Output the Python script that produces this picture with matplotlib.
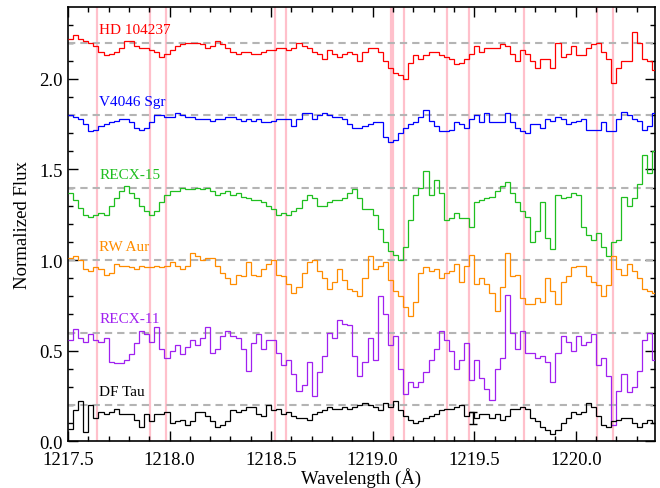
import numpy as np
import matplotlib
matplotlib.use('Agg')
import matplotlib.pyplot as plt
from matplotlib.ticker import MultipleLocator

plt.rcParams['font.family'] = ['Liberation Serif', 'DejaVu Serif']

# wavelength grid (Angstrom), uniform bins
wave0 = 1217.5
dwave = 0.025

# normalized flux, already shifted by the offsets in `levels`
hd104237 = [2.22, 2.24, 2.22, 2.21, 2.20, 2.18, 2.15, 2.13, 2.14, 2.15, 2.17, 2.21, 2.21, 2.18, 2.17, 2.17, 2.16, 2.15, 2.12, 2.14,
            2.16, 2.18, 2.19, 2.20, 2.20, 2.20, 2.19, 2.17, 2.18, 2.21, 2.19, 2.17, 2.15, 2.14, 2.15, 2.15, 2.14, 2.14, 2.15,
            2.16, 2.16, 2.17, 2.17, 2.16, 2.17, 2.20, 2.18, 2.17, 2.15, 2.14, 2.11, 2.16, 2.14, 2.12, 2.14, 2.15, 2.14, 2.10, 2.15,
            2.17, 2.17, 2.15, 2.10, 2.06, 2.03, 2.02, 2.00, 2.09, 2.13, 2.11, 2.13, 2.15, 2.15, 2.13, 2.12, 2.11, 2.08, 2.09,
            2.11, 2.14, 2.18, 2.15, 2.17, 2.17, 2.17, 2.19, 2.18, 2.14, 2.10, 2.16, 2.14, 2.10, 2.06, 2.11, 2.11, 2.06, 2.20, 2.12,
            2.14, 2.18, 2.13, 2.13, 2.17, 2.19, 2.20, 2.15, 2.11, 1.98, 2.06, 2.10, 2.10, 2.26, 2.20, 2.11, 2.10, 2.05]
v4046 = [1.80, 1.79, 1.78, 1.75, 1.71, 1.72, 1.74, 1.75, 1.76, 1.77, 1.78, 1.78, 1.76, 1.73, 1.72, 1.73, 1.76, 1.80, 1.80, 1.79,
         1.79, 1.81, 1.80, 1.79, 1.79, 1.78, 1.78, 1.78, 1.77, 1.78, 1.78, 1.79, 1.79, 1.78, 1.77, 1.78, 1.77, 1.78, 1.76,
         1.76, 1.77, 1.78, 1.78, 1.78, 1.74, 1.78, 1.81, 1.81, 1.78, 1.80, 1.81, 1.80, 1.79, 1.79, 1.78, 1.75, 1.73, 1.73, 1.74,
         1.75, 1.76, 1.76, 1.68, 1.65, 1.66, 1.70, 1.73, 1.75, 1.76, 1.79, 1.83, 1.77, 1.74, 1.71, 1.71, 1.72, 1.76, 1.75,
         1.73, 1.78, 1.80, 1.76, 1.81, 1.76, 1.76, 1.76, 1.81, 1.76, 1.73, 1.71, 1.70, 1.75, 1.75, 1.73, 1.78, 1.77, 1.79, 1.78,
         1.75, 1.76, 1.77, 1.78, 1.72, 1.72, 1.72, 1.76, 1.71, 1.71, 1.78, 1.82, 1.80, 1.78, 1.77, 1.72, 1.74, 1.81]
recx15 = [1.37, 1.33, 1.29, 1.25, 1.24, 1.25, 1.26, 1.25, 1.30, 1.34, 1.38, 1.41, 1.37, 1.34, 1.30, 1.27, 1.25, 1.27, 1.32, 1.36,
          1.38, 1.38, 1.40, 1.39, 1.39, 1.40, 1.39, 1.40, 1.38, 1.36, 1.37, 1.38, 1.36, 1.37, 1.35, 1.34, 1.33, 1.33, 1.32,
          1.30, 1.28, 1.25, 1.26, 1.25, 1.27, 1.29, 1.33, 1.36, 1.34, 1.30, 1.30, 1.32, 1.33, 1.33, 1.34, 1.37, 1.39, 1.34, 1.28,
          1.28, 1.25, 1.17, 1.10, 1.05, 1.03, 1.00, 1.07, 1.22, 1.36, 1.40, 1.49, 1.36, 1.44, 1.37, 1.22, 1.23, 1.26, 1.23,
          1.23, 1.18, 1.32, 1.33, 1.34, 1.35, 1.38, 1.41, 1.43, 1.37, 1.32, 1.27, 1.24, 1.10, 1.16, 1.32, 1.12, 1.06, 1.36, 1.34,
          1.35, 1.37, 1.36, 1.18, 1.14, 1.11, 1.15, 1.07, 1.02, 1.10, 1.11, 1.35, 1.30, 1.34, 1.42, 1.58, 1.48, 1.60]
rwaur = [1.01, 1.02, 1.00, 0.95, 0.94, 0.96, 0.95, 0.92, 0.93, 0.98, 0.97, 0.97, 0.96, 0.95, 0.97, 0.96, 0.96, 0.97, 0.96, 0.97,
         0.99, 0.97, 0.95, 0.97, 1.04, 1.02, 1.00, 1.01, 1.01, 0.97, 0.93, 0.90, 0.87, 0.92, 0.91, 0.99, 0.92, 0.91, 0.95,
         0.98, 1.00, 0.92, 0.91, 0.87, 0.82, 0.85, 0.93, 0.99, 1.00, 0.94, 0.90, 0.84, 0.88, 0.95, 0.89, 0.84, 0.83, 0.80, 0.90,
         1.02, 0.95, 0.97, 0.99, 0.89, 0.83, 0.80, 0.74, 0.69, 0.77, 0.93, 0.96, 0.94, 0.95, 0.90, 0.93, 0.94, 0.98, 0.88,
         0.97, 1.03, 0.87, 0.90, 0.87, 0.82, 0.72, 0.85, 1.04, 0.91, 0.92, 0.79, 0.76, 0.76, 0.79, 0.77, 0.90, 0.83, 0.76, 0.88,
         0.91, 0.96, 0.97, 0.97, 0.91, 0.88, 0.86, 0.80, 0.86, 1.02, 0.95, 0.92, 0.98, 0.94, 0.90, 0.84, 0.83, 0.82]
recx11 = [0.56, 0.62, 0.57, 0.55, 0.59, 0.56, 0.55, 0.57, 0.44, 0.43, 0.43, 0.45, 0.48, 0.54, 0.61, 0.59, 0.55, 0.63, 0.51, 0.46,
          0.50, 0.53, 0.48, 0.52, 0.56, 0.53, 0.57, 0.63, 0.49, 0.51, 0.58, 0.61, 0.58, 0.57, 0.51, 0.39, 0.54, 0.59, 0.51,
          0.56, 0.56, 0.49, 0.42, 0.45, 0.37, 0.28, 0.31, 0.44, 0.25, 0.38, 0.47, 0.60, 0.57, 0.67, 0.65, 0.64, 0.47, 0.36, 0.44,
          0.57, 0.45, 0.80, 0.70, 0.53, 0.58, 0.40, 0.26, 0.33, 0.30, 0.33, 0.38, 0.45, 0.51, 0.61, 0.56, 0.50, 0.40, 0.45,
          0.54, 0.34, 0.45, 0.35, 0.29, 0.23, 0.40, 0.46, 0.81, 0.60, 0.51, 0.61, 0.49, 0.49, 0.46, 0.47, 0.44, 0.33, 0.49, 0.58,
          0.55, 0.50, 0.58, 0.53, 0.55, 0.59, 0.42, 0.46, 0.36, 0.09, 0.28, 0.37, 0.27, 0.30, 0.39, 0.56, 0.60, 0.45]
dftau = [0.07, 0.17, 0.22, 0.05, 0.20, 0.13, 0.16, 0.15, 0.16, 0.18, 0.15, 0.15, 0.15, 0.12, 0.08, 0.15, 0.11, 0.15, 0.15, 0.16,
         0.10, 0.11, 0.12, 0.09, 0.11, 0.16, 0.16, 0.14, 0.11, 0.08, 0.09, 0.11, 0.17, 0.16, 0.17, 0.19, 0.19, 0.15, 0.14,
         0.20, 0.17, 0.18, 0.15, 0.16, 0.14, 0.13, 0.13, 0.12, 0.15, 0.16, 0.17, 0.19, 0.18, 0.18, 0.19, 0.18, 0.19, 0.20, 0.21,
         0.20, 0.19, 0.17, 0.21, 0.19, 0.22, 0.17, 0.14, 0.12, 0.10, 0.11, 0.13, 0.14, 0.15, 0.17, 0.18, 0.18, 0.19, 0.20,
         0.14, 0.16, 0.13, 0.15, 0.15, 0.13, 0.15, 0.12, 0.14, 0.18, 0.18, 0.19, 0.18, 0.13, 0.11, 0.08, 0.06, 0.04, 0.06, 0.10,
         0.13, 0.16, 0.15, 0.16, 0.21, 0.19, 0.14, 0.09, 0.08, 0.11, 0.12, 0.13, 0.13, 0.10, 0.08, 0.10, 0.12, 0.10]

names = ['HD 104237', 'V4046 Sgr', 'RECX-15', 'RW Aur', 'RECX-11', 'DF Tau']
spectra = [hd104237, v4046, recx15, rwaur, recx11, dftau]
levels = [2.2, 1.8, 1.4, 1.0, 0.6, 0.2]   # continuum level of each shifted spectrum
colors = ['#ff0000', '#0000ff', '#1fbf1f', '#ff8c00', '#a020f0', '#000000']

# H2 line positions
h2_lines = [1217.641, 1217.902, 1217.981, 1218.518, 1218.572, 1219.090, 1219.100,
            1219.152, 1219.364, 1219.472, 1219.743, 1220.104, 1220.181]

# representative error bar on DF Tau
err_wave, err_flux, err_size = 1219.495, 0.128, 0.032

fig = plt.figure(figsize=(6.6, 4.89), dpi=100)
ax = fig.add_axes([0.103, 0.0955, 0.8894, 0.8875])

for w in h2_lines:
    ax.axvline(w, color='#ffc0cb', lw=1.6, zorder=1)

for name, flux, lev, c in zip(names, spectra, levels, colors):
    edges = wave0 + dwave * np.arange(len(flux) + 1)
    ax.axhline(lev, color='#b4b4b4', lw=1.5, ls=(0, (3.5, 2.4)), zorder=2)
    ax.stairs(flux, edges, color=c, lw=0.9, baseline=None, zorder=3)
    ax.text(1217.655, lev + 0.075, name, color=c, fontsize=11, ha='left', va='center')

ax.errorbar(err_wave, err_flux, yerr=err_size, color='black', lw=1.0, capsize=3, capthick=1.0, zorder=4)

ax.set_xlim(1217.5, 1220.39)
ax.set_ylim(0.0, 2.395)
ax.xaxis.set_major_locator(MultipleLocator(0.5))
ax.xaxis.set_minor_locator(MultipleLocator(0.1))
ax.yaxis.set_major_locator(MultipleLocator(0.5))
ax.yaxis.set_minor_locator(MultipleLocator(0.1))
ax.xaxis.set_major_formatter(plt.FormatStrFormatter('%.1f'))
ax.yaxis.set_major_formatter(plt.FormatStrFormatter('%.1f'))
ax.tick_params(which='both', direction='in', top=True, right=True, width=1.0, labelsize=13.5)
ax.tick_params(which='major', length=7)
ax.tick_params(which='minor', length=3.6)
ax.tick_params(axis='x', pad=7)
ax.tick_params(axis='y', pad=4)
for s in ax.spines.values():
    s.set_linewidth(1.2)

# lift the "0.0" label so it clears the wavelength labels
ax.yaxis.get_major_ticks()[0].label1.set_verticalalignment('bottom')

ax.set_xlabel('Wavelength (Å)', fontsize=13.5, labelpad=-1)
ax.set_ylabel('Normalized Flux', fontsize=13.5, labelpad=6)

fig.savefig('out.png', dpi=100)
